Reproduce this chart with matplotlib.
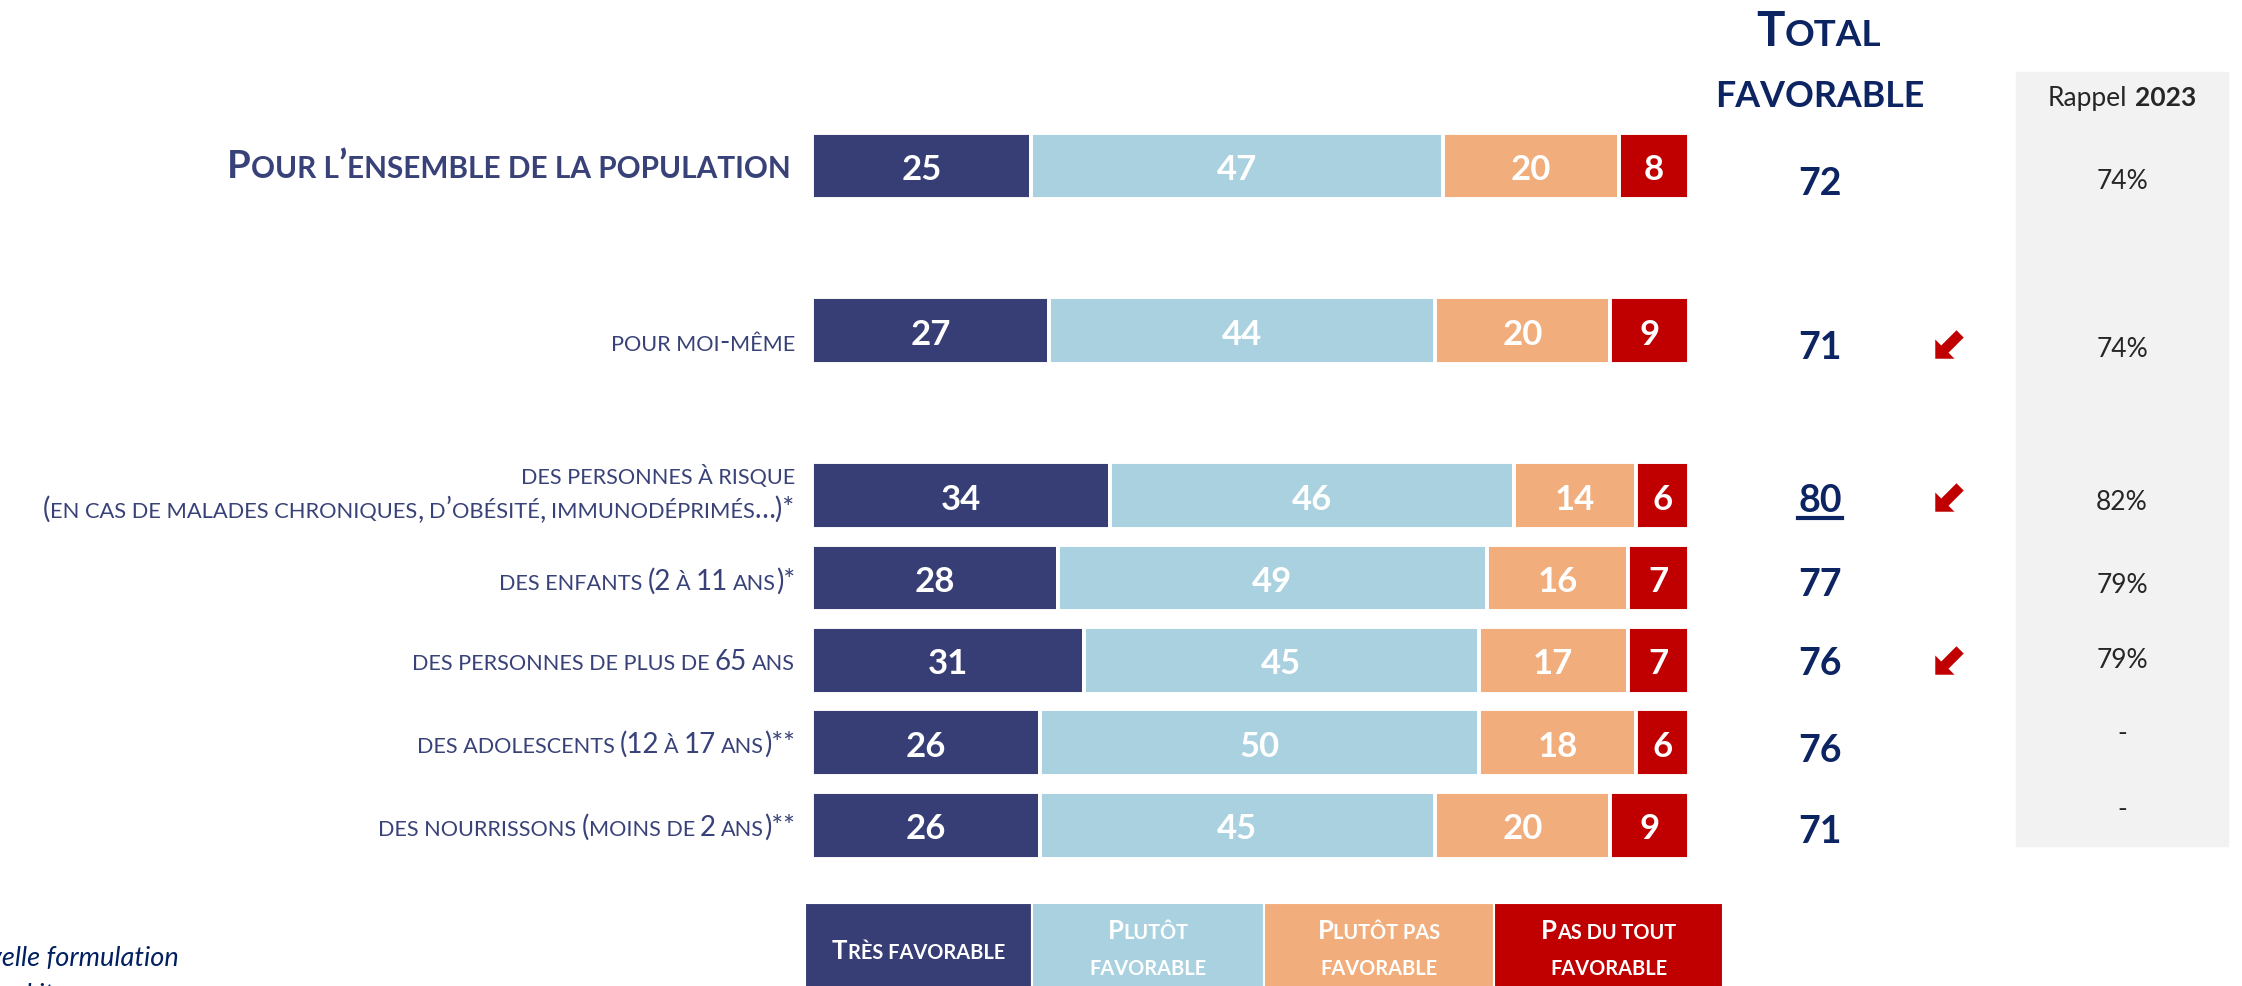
import matplotlib
matplotlib.use("Agg")
import matplotlib.pyplot as plt
from matplotlib.path import Path
from matplotlib.patches import Rectangle

plt.rcParams['font.family'] = ['Lato', 'DejaVu Sans']

# data
categories = [
    "Pour l’ensemble de la population",
    "pour moi-même",
    "des personnes à risque",
    "des enfants (2 à 11 ans)*",
    "des personnes de plus de 65 ans",
    "des adolescents (12 à 17 ans)**",
    "des nourrissons (moins de 2 ans)**",
]
sub_label = "(en cas de malades chroniques, d’obésité, immunodéprimés…)*"
tres_fav = [25, 27, 34, 28, 31, 26, 26]
plutot_fav = [47, 44, 46, 49, 45, 50, 45]
plutot_pas = [20, 20, 14, 16, 17, 18, 20]
pas_du_tout = [8, 9, 6, 7, 7, 6, 9]
total_fav = [72, 71, 80, 77, 76, 76, 71]
rappel_2023 = ["74%", "74%", "82%", "79%", "79%", "-", "-"]
trend_down = [False, True, True, False, True, False, False]
legend_labels = [["Très favorable"], ["Plutôt", "favorable"],
                 ["Plutôt pas", "favorable"], ["Pas du tout", "favorable"]]

# layout (pixel positions)
row_pos = [0, 2, 4, 5, 6, 7, 8]
label_y = [167, 343, None, 582, 662, 745, 828]
total_y = [181, 345, 498, 582, 661, 748, 829]
rappel_y = [179, 347, 500, 583, 658, 731, 807]

colors = ['#363E75', '#A9D1DF', '#F1AE7C', '#C00000']
navy = '#0D2463'
label_col = '#394278'

W, H = 2242, 987
fig = plt.figure(figsize=(W / 100, H / 100), dpi=100)
ax = fig.add_axes([0, 0, 1, 1])
ax.axis('off')

X0, XU = 812, 8.77
Y0, YU = 167, 82.4


def px(x):
    return (x - X0) / XU


def py(y):
    return (y - Y0) / YU


ax.set_xlim(px(0), px(W))
ax.set_ylim(py(H), py(0))
renderer = fig.canvas.get_renderer()


def split_runs(s):
    runs = []
    for ch in s:
        if ch == ' ':
            runs[-1][0] += ' '
            continue
        small = ch.islower()
        if runs and runs[-1][1] == small:
            runs[-1][0] += ch
        else:
            runs.append([ch, small])
    return runs


def sc_text(x, y, s, size, ha='left', small=0.78, **kw):
    # small capitals: y is the visual centre of the small letters
    runs = split_runs(s)
    base = y + 0.36 * size * small * 100 / 72
    arts, widths, gaps = [], [], []
    for i, (txt, is_small) in enumerate(runs):
        fs = size * small if is_small else size
        t = ax.text(0, py(base), txt.strip().upper(), fontsize=fs,
                    va='baseline', ha='left', **kw)
        arts.append(t)
        widths.append(t.get_window_extent(renderer).width)
        gap = 0
        if i > 0 and runs[i - 1][0].endswith(' '):
            gap = 0.23 * size * small * 100 / 72
        gaps.append(gap)
    total = sum(widths) + sum(gaps)
    cur = x - {'left': 0, 'center': total / 2, 'right': total}[ha]
    for t, w, g in zip(arts, widths, gaps):
        cur += g
        t.set_x(px(cur))
        cur += w
    return arts


# stacked bars
series = [tres_fav, plutot_fav, plutot_pas, pas_du_tout]
lefts = [0] * len(categories)
for vals, col in zip(series, colors):
    ax.barh(row_pos, vals, left=lefts, height=0.81, color=col,
            edgecolor='white', linewidth=2.8, zorder=2)
    for p, l, v in zip(row_pos, lefts, vals):
        ax.text(l + v / 2, p, str(v), ha='center', va='center_baseline',
                color='white', fontweight='bold', fontsize=25, zorder=3)
    lefts = [l + v for l, v in zip(lefts, vals)]

# category labels
sc_text(791, label_y[0], categories[0], 27.5, ha='right', color=label_col,
        fontweight='bold')
for i in [1, 3, 4, 5, 6]:
    sc_text(795, label_y[i], categories[i], 20, ha='right', color=label_col)
sc_text(795, 476, categories[2], 20, ha='right', color=label_col)
sc_text(795, 510, sub_label, 20.2, ha='right', color=label_col)

# total favorable column
sc_text(1819, 33, "Total", 34, ha='center', color=navy, fontweight='bold')
sc_text(1820, 94, "favorable", 33, ha='center', color=navy, fontweight='bold')
for i, v in enumerate(total_fav):
    t = ax.text(px(1820), py(total_y[i]), str(v), ha='center',
                va='center_baseline', color=navy, fontweight='bold',
                fontsize=27)
    if i == 2:
        bb = t.get_window_extent(renderer)
        inv = ax.transData.inverted()
        (x0, _), (x1, _) = inv.transform([(bb.x0, 0), (bb.x1, 0)])
        ax.plot([x0, x1], [py(total_y[i] + 21)] * 2, color=navy, lw=3)

# trend arrows
arrow = Path([(-1, -1), (0.35, -1), (-0.07, -0.58), (1, 0.49),
              (0.49, 1), (-0.58, -0.07), (-1, 0.35), (-1, -1)],
             [Path.MOVETO] + [Path.LINETO] * 6 + [Path.CLOSEPOLY])
ax.scatter([px(1949)] * sum(trend_down),
           [py(total_y[i]) for i in range(len(trend_down)) if trend_down[i]],
           marker=arrow, s=420, color='#C00000', linewidths=0, zorder=3)

# rappel 2023 panel
ax.add_patch(Rectangle((px(2016), py(73)), (2228 - 2016) / XU,
                       (847 - 73) / YU, color='#F2F2F2', zorder=0))
t1 = ax.text(0, py(106), "Rappel", fontsize=19, color='#262626',
             va='baseline')
t2 = ax.text(0, py(106), "2023", fontsize=19, color='#262626',
             fontweight='bold', va='baseline')
w1 = t1.get_window_extent(renderer).width + 7
w2 = t2.get_window_extent(renderer).width
t1.set_x(px(2122 - (w1 + w2) / 2))
t2.set_x(px(2122 - (w1 + w2) / 2 + w1))
for v, y in zip(rappel_2023, rappel_y):
    ax.text(px(2122), py(y), v, ha='center', va='center_baseline',
            fontsize=19, color='#262626')

# legend boxes
edges = [805, 1032, 1264, 1494, 1723]
for k, (lab, col) in enumerate(zip(legend_labels, colors)):
    ax.add_patch(Rectangle((px(edges[k]), py(904)),
                           (edges[k + 1] - edges[k]) / XU, (1000 - 904) / YU,
                           facecolor=col, edgecolor='white', lw=1.5,
                           zorder=2))
    cx = (edges[k] + edges[k + 1]) / 2
    if len(lab) == 1:
        sc_text(cx, 952, lab[0], 18.5, ha='center', color='white',
                fontweight='bold', zorder=3)
    else:
        sc_text(cx, 932, lab[0], 18.5, ha='center', color='white',
                fontweight='bold', zorder=3)
        sc_text(cx, 968, lab[1], 18.5, ha='center', color='white',
                fontweight='bold', zorder=3)

# footnotes, cut by the left and bottom edges as in the source slide
f1 = ax.text(px(179), py(966), "* Nouvelle formulation", ha='right',
             va='baseline', fontsize=19.5, style='italic', color='#002060')
fx = f1.get_window_extent(renderer).x0
ax.text(px(fx), py(1003), "** Nouvel item", ha='left', va='baseline',
        fontsize=19.5, style='italic', color='#002060')

fig.savefig("out.png", dpi=100)
